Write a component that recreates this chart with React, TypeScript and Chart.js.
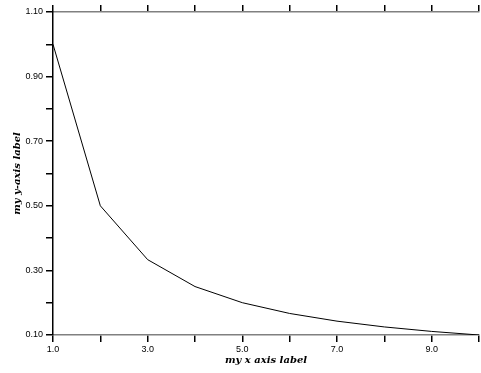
import React, { useEffect, useRef } from "react";
import { Chart, registerables } from "chart.js";

Chart.register(...registerables);

const xValues = [1, 2, 3, 4, 5, 6, 7, 8, 9, 10];
const yValues = [1.0, 0.5, 0.3333, 0.25, 0.2, 0.1667, 0.1429, 0.125, 0.1111, 0.1];
const xTitle = "my x axis label";
const yTitle = "my y-axis label";

const W = 481;
const H = 373;
const PLOT_LEFT = 53;
const PLOT_RIGHT = 479;
const PLOT_TOP = 12;
const PLOT_BOTTOM = 335;

const titlesPlugin = {
  id: "axisTitles",
  afterDraw(chart: any) {
    const ctx = chart.ctx;
    const a = chart.chartArea;
    ctx.save();
    ctx.fillStyle = "#000";
    ctx.font = "italic bold 10px 'DejaVu Serif'";
    ctx.textAlign = "center";
    ctx.textBaseline = "middle";
    ctx.fillText(xTitle, (a.left + a.right) / 2, 360);
    ctx.translate(17, (a.top + a.bottom) / 2);
    ctx.rotate(-Math.PI / 2);
    ctx.fillText(yTitle, 0, 0);
    ctx.restore();
  },
};

export default function App() {
  const ref = useRef<HTMLCanvasElement>(null);
  useEffect(() => {
    if (!ref.current) return;
    const tickFont = { family: "'Liberation Sans', Arial, sans-serif", size: 9 };
    const chart = new Chart(ref.current, {
      type: "line",
      data: {
        labels: xValues,
        datasets: [
          {
            data: xValues.map((x, i) => ({ x, y: yValues[i] })),
            borderColor: "#000",
            borderWidth: 1,
            pointRadius: 0,
            tension: 0,
            fill: false,
          },
        ],
      },
      options: {
        animation: false,
        responsive: false,
        maintainAspectRatio: false,
        layout: { padding: { left: 0, right: W - PLOT_RIGHT, top: 0, bottom: 0 } },
        plugins: { legend: { display: false }, tooltip: { enabled: false } },
        scales: {
          x: {
            type: "linear",
            position: "bottom",
            min: 1,
            max: 10,
            afterFit: (s: any) => {
              s.height = H - PLOT_BOTTOM;
            },
            ticks: {
              stepSize: 1,
              autoSkip: false,
              maxRotation: 0,
              padding: 2,
              color: "#000",
              font: tickFont,
              callback: (v: any, i: number) => (i % 2 === 0 ? Number(v).toFixed(1) : ""),
            },
            grid: {
              drawOnChartArea: false,
              drawTicks: true,
              tickLength: 7,
              tickColor: "#000",
              lineWidth: 1.5,
            },
            border: { display: true, color: "#808080", width: 1.5 },
          },
          x2: {
            type: "linear",
            position: "top",
            min: 1,
            max: 10,
            afterFit: (s: any) => {
              s.height = PLOT_TOP;
            },
            ticks: { stepSize: 1, autoSkip: false, display: false },
            grid: {
              drawOnChartArea: false,
              drawTicks: true,
              tickLength: 7,
              tickColor: "#000",
              lineWidth: 1.5,
            },
            border: { display: true, color: "#808080", width: 1.5 },
          },
          y: {
            type: "linear",
            position: "left",
            min: 0.1,
            max: 1.1,
            afterFit: (s: any) => {
              s.width = PLOT_LEFT;
            },
            ticks: {
              stepSize: 0.1,
              autoSkip: false,
              padding: 3,
              color: "#000",
              font: tickFont,
              callback: (v: any, i: number) => (i % 2 === 0 ? Number(v).toFixed(2) : ""),
            },
            grid: {
              drawOnChartArea: false,
              drawTicks: true,
              tickLength: 7,
              tickColor: "#000",
              lineWidth: 1.5,
            },
            border: { display: true, color: "#000", width: 1.5 },
          },
        },
      },
      plugins: [titlesPlugin],
    } as any);
    return () => chart.destroy();
  }, []);
  return (
    <div style={{ position: "absolute", left: 0, top: 0, width: W, height: H, background: "#fff" }}>
      <canvas ref={ref} width={W} height={H} style={{ width: W, height: H, display: "block" }} />
    </div>
  );
}
